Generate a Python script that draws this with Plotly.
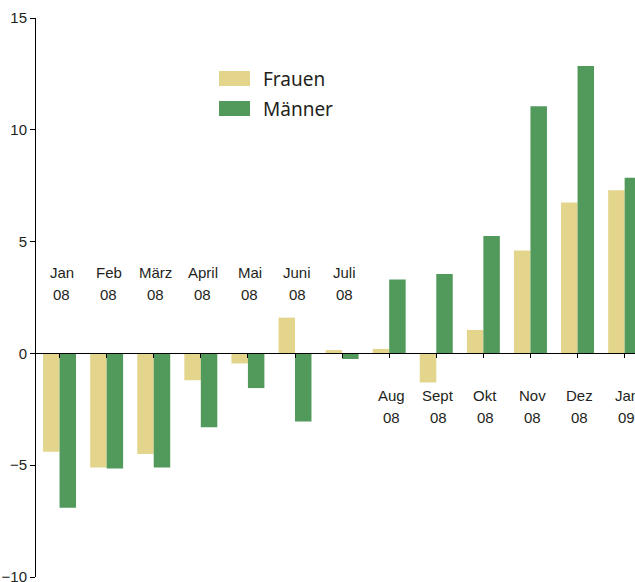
import plotly.graph_objects as go

months = ["Jan", "Feb", "März", "April", "Mai", "Juni", "Juli",
          "Aug", "Sept", "Okt", "Nov", "Dez", "Jan"]
years = ["08", "08", "08", "08", "08", "08", "08",
         "08", "08", "08", "08", "08", "09"]
frauen = [-4.4, -5.1, -4.5, -1.2, -0.45, 1.6, 0.15, 0.2, -1.3, 1.05, 4.6, 6.75, 7.3]
maenner = [-6.9, -5.15, -5.1, -3.3, -1.55, -3.05, -0.25, 3.3, 3.55, 5.25, 11.05, 12.85, 7.85]
series_names = ["Frauen", "Männer"]
series_colors = ["#E4D58C", "#52995C"]
y_ticks = [-10, -5, 0, 5, 10, 15]

x = list(range(len(months)))

W, H = 635, 582
ML, MR, MT, MB = 36, 0, 18, 5
PW, PH = W - ML - MR, H - MT - MB


def px(xp):
    return (xp - ML) / PW


def py(yp):
    return (H - MB - yp) / PH


fig = go.Figure()
for name, vals, col in zip(series_names, [frauen, maenner], series_colors):
    fig.add_trace(go.Bar(x=x, y=vals, name=name, showlegend=False,
                         marker=dict(color=col, line=dict(width=0))))

label_font = dict(family="Liberation Sans, Arial", size=15, color="#231f20")
for i, (m, yr) in enumerate(zip(months, years)):
    above = max(frauen[i], maenner[i]) < 2
    y1, y2 = (3.62, 2.64) if above else (-1.88, -2.86)
    fig.add_annotation(x=i, y=y1, text=m, showarrow=False, font=label_font,
                       xref="x", yref="y", xshift=2)
    fig.add_annotation(x=i, y=y2, text=yr, showarrow=False, font=label_font,
                       xref="x", yref="y", xshift=2)

# legend (swatches + labels)
legend_font = dict(family="Noto Sans", size=19, color="#231f20")
for k, (name, col) in enumerate(zip(series_names, series_colors)):
    top = 71 + 30 * k
    fig.add_shape(type="rect", xref="paper", yref="paper",
                  x0=px(219), x1=px(250), y0=py(top + 15), y1=py(top),
                  fillcolor=col, line=dict(width=0))
    fig.add_annotation(xref="paper", yref="paper", x=px(261), y=py(top + 8),
                       xanchor="left", yanchor="middle", text=name,
                       showarrow=False, font=legend_font)

fig.update_layout(
    width=W, height=H,
    margin=dict(l=ML, r=MR, t=MT, b=MB, autoexpand=False),
    plot_bgcolor="white", paper_bgcolor="white",
    barmode="group", bargap=0.3, bargroupgap=0,
    showlegend=False,
    xaxis=dict(range=[-0.5, 12.22], anchor="free", position=0.4, automargin=False,
               showline=True, linecolor="black", linewidth=1,
               ticks="outside", tickson="boundaries", ticklen=4, tickcolor="black",
               showticklabels=False, showgrid=False, zeroline=False,
               tickmode="array", tickvals=x),
    yaxis=dict(range=[-10, 15], tickvals=y_ticks, ticks="outside", ticklen=5, automargin=False,
               tickcolor="black", showline=True, linecolor="black", linewidth=1,
               showgrid=False, zeroline=False, ticklabeloverflow="allow",
               tickfont=dict(family="Liberation Sans, Arial", size=15, color="#231f20")),
)

fig.write_html("out.html", config={"displayModeBar": False},
               post_script="document.body.style.margin='0';")
